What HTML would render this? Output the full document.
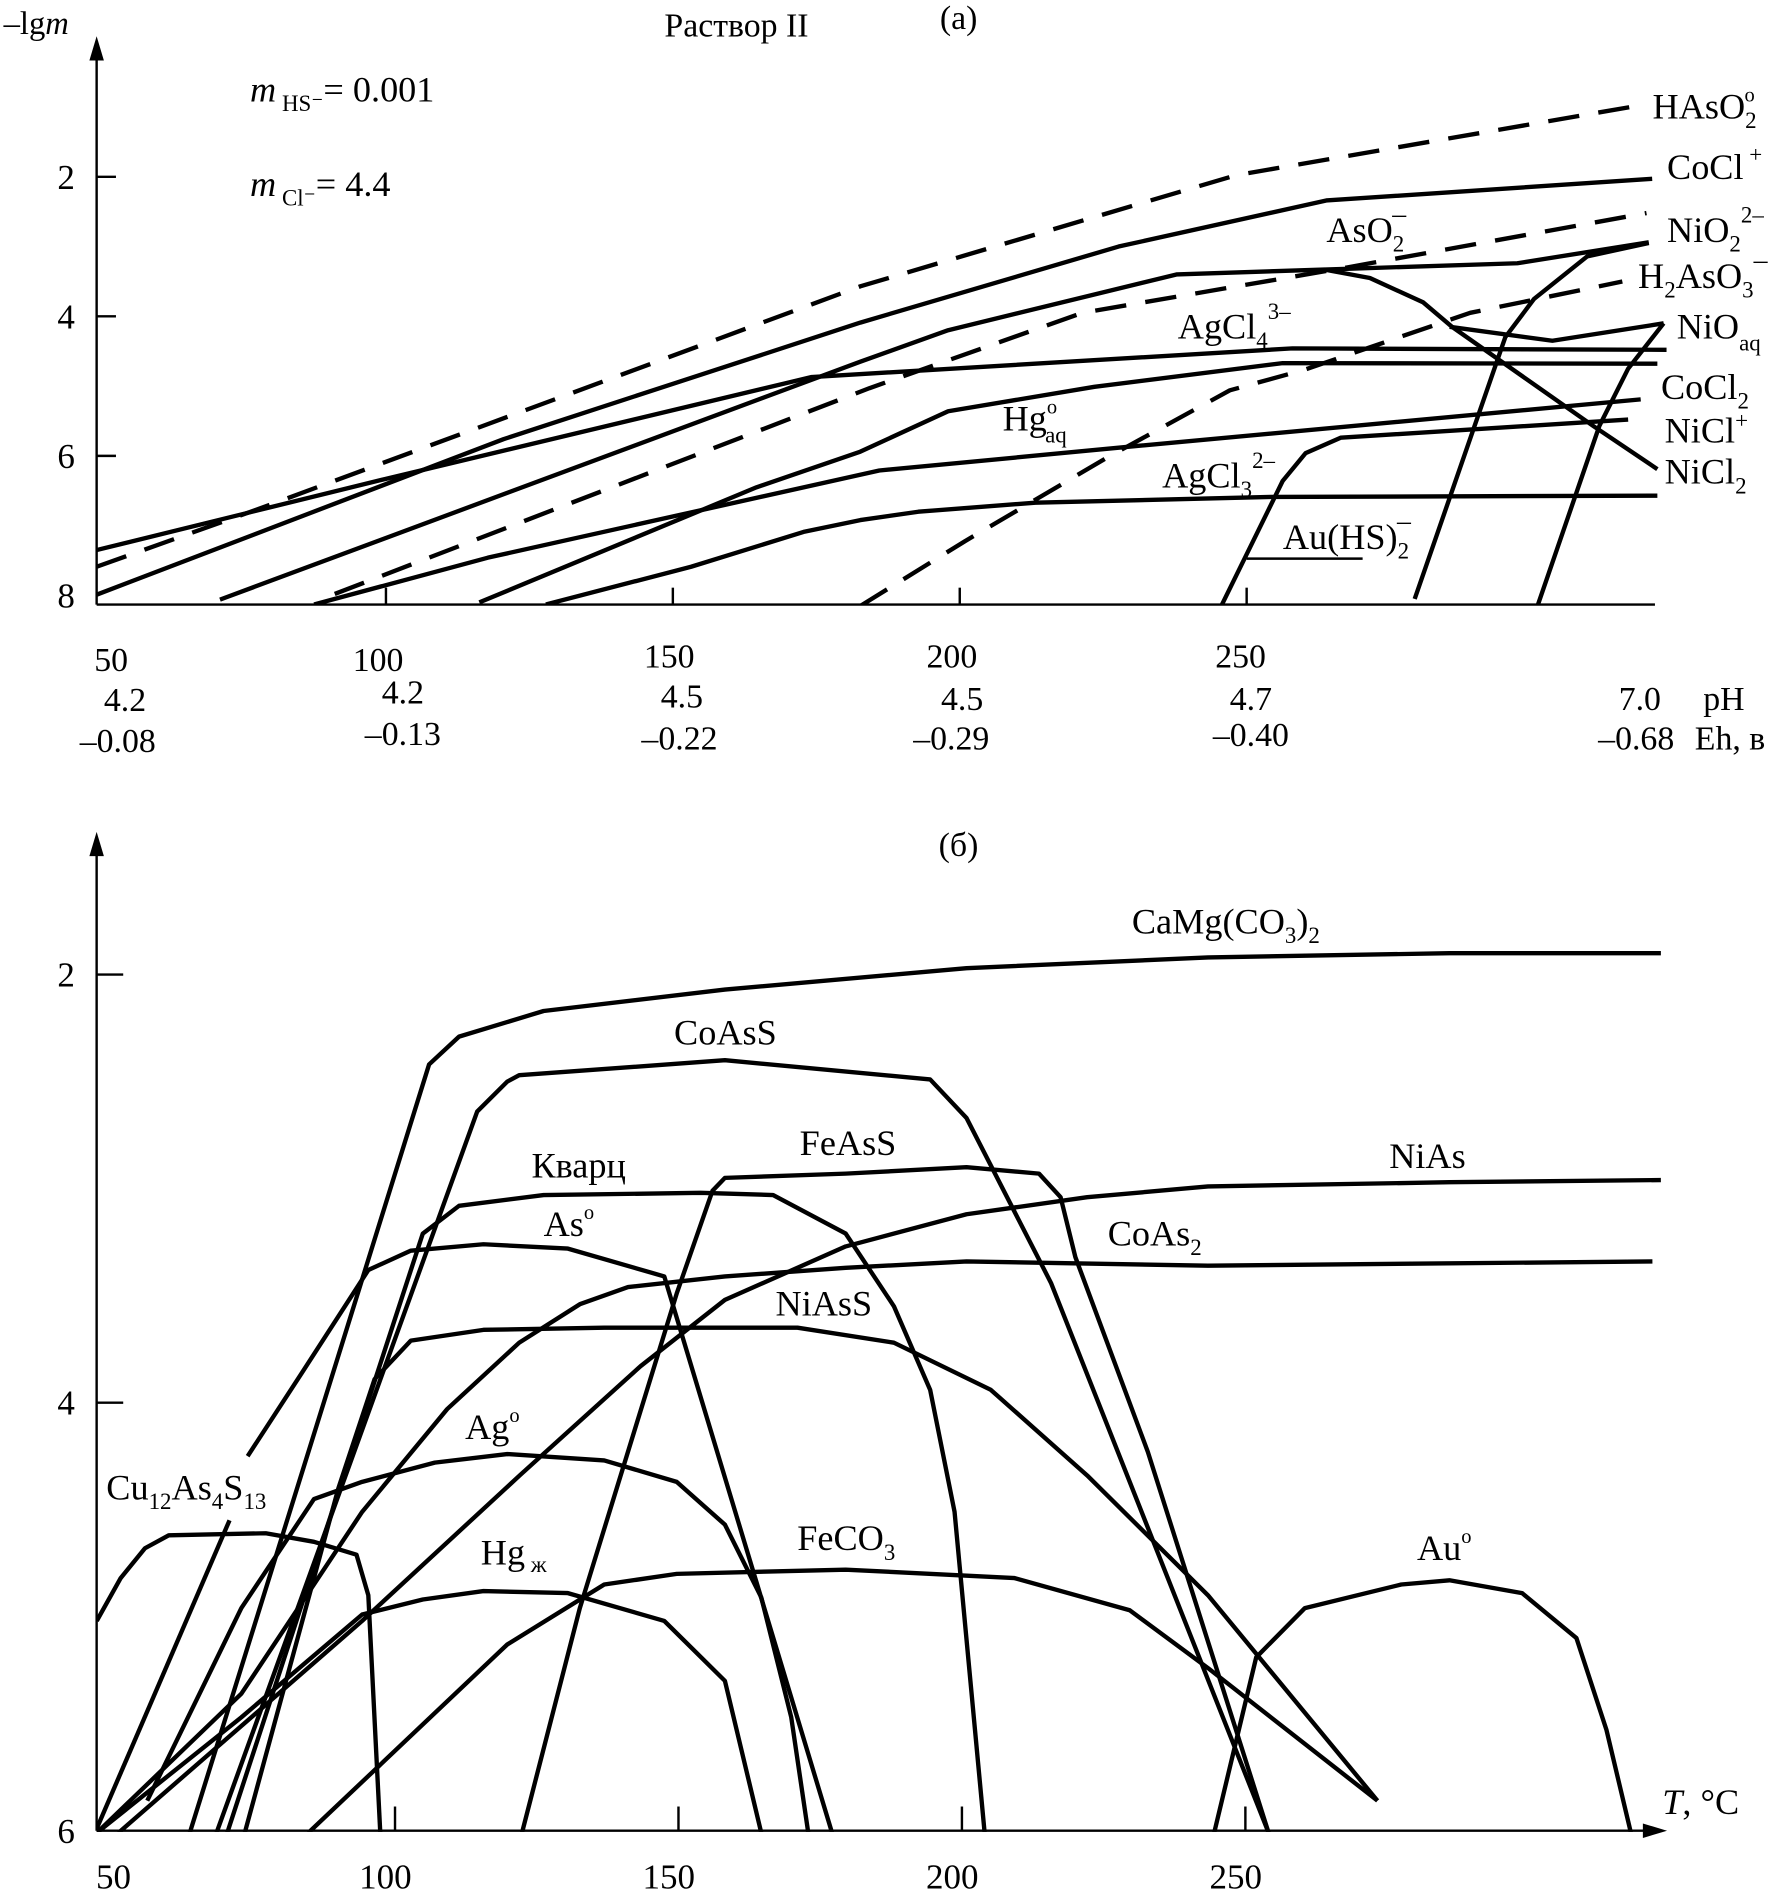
<!DOCTYPE html>
<html><head><meta charset="utf-8"><style>
html,body{margin:0;padding:0;background:#fff;}
svg{display:block;}
text{font-family:"Liberation Serif",serif;fill:#000;}
</style></head><body>
<svg id="chart" xmlns="http://www.w3.org/2000/svg" width="1783" height="1896" viewBox="0 0 1476 1568" preserveAspectRatio="none">
<defs>
<clipPath id="clipA"><rect x="80" y="20" width="1300" height="480"/></clipPath>
<clipPath id="clipB"><rect x="80" y="680" width="1300" height="835"/></clipPath>
</defs>
<g id="panelA">
  <line x1="80" y1="38" x2="80" y2="500" stroke="#000" stroke-width="2"/>
  <polygon points="80,30 74,50 86,50" fill="#000"/>
  <line x1="80" y1="500" x2="1370" y2="500" stroke="#000" stroke-width="2"/>
  <text x="3" y="28" font-size="27">–lg<tspan font-style="italic">m</tspan></text>
  <text x="550" y="30" font-size="28">Раствор II</text>
  <text x="778" y="24" font-size="28">(a)</text>
  <text x="207" y="84" font-size="30"><tspan font-style="italic">m</tspan><tspan font-size="19" dy="8"> HS⁻</tspan><tspan dy="-8">= 0.001</tspan></text>
  <text x="207" y="162" font-size="30"><tspan font-style="italic">m</tspan><tspan font-size="19" dy="8"> Cl⁻</tspan><tspan dy="-8">= 4.4</tspan></text>
  <g id="ticksA"></g>
  <g id="curvesA" clip-path="url(#clipA)"></g>
  <line x1="1032" y1="462" x2="1128" y2="462" stroke="#000" stroke-width="2"/>
  <g font-size="30">
    <text x="1368" y="98">HAsO<tspan font-size="19" dy="8">2</tspan><tspan font-size="17" dy="-22" dx="-10">o</tspan></text>
    <text x="1380" y="148">CoCl<tspan font-size="19" dy="-14"> +</tspan></text>
    <text x="1380" y="200">NiO<tspan font-size="19" dy="8">2</tspan><tspan font-size="19" dy="-24">2–</tspan></text>
    <text x="1356" y="238">H<tspan font-size="19" dy="8">2</tspan><tspan dy="-8">AsO</tspan><tspan font-size="19" dy="8">3</tspan><tspan font-size="23" dy="-24">–</tspan></text>
    <text x="1388" y="280">NiO<tspan font-size="19" dy="10">aq</tspan></text>
    <text x="1375" y="330">CoCl<tspan font-size="19" dy="8">2</tspan></text>
    <text x="1378" y="366">NiCl<tspan font-size="19" dy="-12">+</tspan></text>
    <text x="1378" y="400">NiCl<tspan font-size="19" dy="8">2</tspan></text>
    <text x="1098" y="200">AsO<tspan font-size="19" dy="8">2</tspan><tspan font-size="23" dy="-24" dx="-10">–</tspan></text>
    <text x="975" y="280">AgCl<tspan font-size="19" dy="8">4</tspan><tspan font-size="19" dy="-24">3–</tspan></text>
    <text x="830" y="356">Hg<tspan font-size="17" dy="-14">o</tspan><tspan font-size="19" dy="24" dx="-10">aq</tspan></text>
    <text x="962" y="403">AgCl<tspan font-size="19" dy="8">3</tspan><tspan font-size="19" dy="-24">2–</tspan></text>
    <text x="1062" y="454">Au(HS)<tspan font-size="19" dy="8">2</tspan><tspan font-size="23" dy="-24" dx="-10">–</tspan></text>
  </g>
  <g font-size="28">
    <text x="78" y="555">50</text><text x="292" y="555">100</text><text x="533" y="552">150</text>
    <text x="767" y="552">200</text><text x="1006" y="552">250</text>
    <text x="86" y="588">4.2</text><text x="316" y="582">4.2</text><text x="547" y="585">4.5</text>
    <text x="779" y="587">4.5</text><text x="1018" y="587">4.7</text><text x="1340" y="587">7.0</text><text x="1410" y="587">pH</text>
    <text x="66" y="622">–0.08</text><text x="302" y="616">–0.13</text><text x="531" y="620">–0.22</text>
    <text x="756" y="620">–0.29</text><text x="1004" y="617">–0.40</text><text x="1323" y="620">–0.68</text><text x="1403" y="620">Eh, в</text>
  </g>
</g>
<g id="panelB">
  <text x="777" y="708" font-size="28">(б)</text>
  <line x1="80" y1="698" x2="80" y2="1514" stroke="#000" stroke-width="2"/>
  <polygon points="80,688 74,708 86,708" fill="#000"/>
  <line x1="80" y1="1514" x2="1370" y2="1514" stroke="#000" stroke-width="2"/>
  <polygon points="1380,1514 1360,1508 1360,1520" fill="#000"/>
  <text x="1376" y="1500" font-size="30"><tspan font-style="italic">T</tspan>, °C</text>
  <g id="ticksB"></g>
  <g id="curvesB" clip-path="url(#clipB)"></g>
  <g font-size="30">
    <text x="937" y="772">CaMg(CO<tspan font-size="19" dy="8">3</tspan><tspan dy="-8">)</tspan><tspan font-size="19" dy="8">2</tspan></text>
    <text x="558" y="864">CoAsS</text>
    <text x="440" y="974">Кварц</text>
    <text x="662" y="955">FeAsS</text>
    <text x="1150" y="966">NiAs</text>
    <text x="450" y="1022">As<tspan font-size="17" dy="-14">o</tspan></text>
    <text x="917" y="1030">CoAs<tspan font-size="19" dy="8">2</tspan></text>
    <text x="642" y="1088">NiAsS</text>
    <text x="385" y="1190">Ag<tspan font-size="17" dy="-14">o</tspan></text>
    <text x="88" y="1240">Cu<tspan font-size="19" dy="8">12</tspan><tspan dy="-8">As</tspan><tspan font-size="19" dy="8">4</tspan><tspan dy="-8">S</tspan><tspan font-size="19" dy="8">13</tspan></text>
    <text x="398" y="1294">Hg<tspan font-size="19" dy="6"> ж</tspan></text>
    <text x="660" y="1282">FeCO<tspan font-size="19" dy="8">3</tspan></text>
    <text x="1173" y="1290">Au<tspan font-size="17" dy="-14">o</tspan></text>
  </g>
</g>
</svg>
<script>
// ---------- Panel (a) data: T (°C) and -lg m ----------
const yTicksA = [2, 4, 6, 8];
const xTicksA = [100, 150, 200, 250];
const hasoT = [50, 78.2, 183.1, 248.5, 320.1];
const hasoV = [7.59, 6.76, 3.57, 1.98, 0.96];
const coclT = [50, 120.9, 183.1, 228.1, 264.3, 321.1];
const coclV = [7.99, 5.76, 4.09, 3.00, 2.34, 2.03];
const nio2dT = [91.5, 184.7, 221.8, 267.9, 320.1];
const nio2dV = [7.98, 5.03, 3.95, 3.30, 2.52];
const aso2T = [71.5, 183.1, 198.4, 238.2, 263.9, 271.9, 281.2, 286.2, 310.8, 322.0];
const aso2V = [8.06, 4.65, 4.20, 3.40, 3.33, 3.45, 3.80, 4.15, 5.57, 6.19];
const nio2sT = [264, 297.6, 320.5];
const nio2sV = [3.33, 3.24, 2.94];
const agcl4T = [50, 100.4, 174.6, 258.4, 323.6];
const agcl4V = [7.35, 6.33, 4.87, 4.46, 4.48];
const hgaqT = [116.7, 165, 183.1, 198.4, 223.9, 256.7, 322];
const hgaqV = [8.10, 6.45, 5.94, 5.36, 5.01, 4.67, 4.68];
const cocl2T = [87.9, 118.2, 186.4, 231.1, 319.1];
const cocl2V = [8.13, 7.46, 6.21, 5.86, 5.19];
const agcl3T = [128.3, 153.6, 173.2, 183.1, 193.2, 213.6, 254.6, 322];
const agcl3V = [8.13, 7.59, 7.09, 6.92, 6.80, 6.67, 6.59, 6.57];
const h2aso3T = [183.1, 201.4, 226, 247.5, 260.7, 289.4, 315.9];
const h2aso3V = [8.15, 7.22, 6.03, 5.06, 4.76, 3.95, 3.50];
const auhsT = [246.0, 256.7, 260.7, 266.8, 316.9];
const auhsV = [8.15, 6.36, 5.96, 5.74, 5.48];
const steep1T = [279.7, 295.5, 300.5, 309.8, 320.5];
const steep1V = [8.05, 4.30, 3.75, 3.14, 2.95];
const steep2T = [301.2, 311.9, 316.9, 323.1];
const steep2V = [8.13, 5.57, 4.75, 4.10];
const nioaqT = [285.8, 303.7, 323.1];
const nioaqV = [4.15, 4.35, 4.10];

// ---------- Panel (b) data ----------
const yTicksB = [2, 4, 6];
const xTicksB = [100, 150, 200, 250];
const xLabelsB = [50, 100, 150, 200, 250];
const camgT = [63.8, 106.0, 111.3, 126.2, 158.2, 200.8, 243.4, 286.0, 323.3];
const camgV = [6.01, 2.42, 2.29, 2.17, 2.07, 1.97, 1.92, 1.90, 1.90];
const coassT = [68.5, 114.5, 119.8, 121.9, 158.2, 194.4, 200.8, 215.7, 254.1];
const coassV = [6.01, 2.64, 2.50, 2.47, 2.40, 2.49, 2.67, 3.44, 6.01];
const kvartsT = [70.4, 104.9, 111.3, 126.2, 153.9, 166.7, 179.5, 188.0, 194.4, 198.7, 204.0];
const kvartsV = [6.01, 3.21, 3.08, 3.03, 3.02, 3.03, 3.21, 3.55, 3.94, 4.51, 6.01];
const feassT = [122.4, 132.6, 149.7, 156.0, 158.2, 179.5, 200.8, 213.6, 217.4, 220.0, 232.8, 254.1];
const feassV = [6.01, 4.96, 3.49, 3.01, 2.95, 2.93, 2.90, 2.93, 3.04, 3.32, 4.23, 6.01];
const niasT = [51.2, 94.2, 122.0, 143.3, 158.2, 179.5, 200.8, 222.1, 243.4, 286.0, 323.3];
const niasV = [6.01, 5.02, 4.34, 3.83, 3.52, 3.27, 3.12, 3.04, 2.99, 2.97, 2.96];
const coas2T = [47.4, 72.9, 94.2, 109.2, 121.9, 132.6, 141.1, 158.2, 179.5, 200.8, 243.4, 321.8];
const coas2V = [6.01, 5.36, 4.51, 4.03, 3.72, 3.54, 3.46, 3.41, 3.37, 3.34, 3.36, 3.34];
const niassT = [73.5, 90.0, 96.4, 102.8, 115.6, 136.9, 171.0, 188.0, 205.1, 222.1, 243.4, 273.3];
const niassV = [6.01, 4.40, 3.89, 3.71, 3.66, 3.65, 3.65, 3.72, 3.94, 4.34, 4.90, 5.86];
const agT = [56.3, 72.9, 85.7, 94.2, 107.0, 119.8, 136.9, 149.7, 158.2, 164.6, 169.9, 172.9];
const agV = [5.86, 4.96, 4.45, 4.37, 4.28, 4.24, 4.27, 4.37, 4.57, 4.91, 5.47, 6.01];
const hgT = [47.4, 72.9, 94.2, 104.9, 115.6, 130.5, 147.5, 158.2, 164.6];
const hgV = [6.01, 5.47, 4.99, 4.92, 4.88, 4.89, 5.02, 5.30, 6.01];
const feco3T = [84.7, 119.8, 136.9, 149.7, 179.5, 209.3, 229.6, 243.4, 273.3];
const feco3V = [6.01, 5.13, 4.85, 4.80, 4.78, 4.82, 4.97, 5.24, 5.86];
const cuT = [47.4, 51.6, 55.9, 60.1, 77.2, 85.7, 93.2, 95.3, 97.4];
const cuV = [5.02, 4.82, 4.68, 4.62, 4.61, 4.65, 4.71, 4.90, 6.01];
const asLowT = [47.4, 70.8];
const asLowV = [5.99, 4.55];
const asT = [74.0, 83.6, 95.3, 102.8, 115.6, 130.5, 147.5, 177.1];
const asV = [4.25, 3.86, 3.38, 3.29, 3.26, 3.28, 3.41, 6.01];
const auT = [244.5, 251.9, 260.5, 277.5, 286.0, 298.8, 308.4, 313.7, 318.0];
const auV = [6.01, 5.19, 4.96, 4.85, 4.83, 4.89, 5.10, 5.53, 6.01];

const NS = 'http://www.w3.org/2000/svg';
function xA(t){ return 80 + (t - 50) * 4.75; }
function yA(v){ return 30.8 + 57.7 * v; }
function xB(t){ return 327 + (t - 100) * 4.693; }
function yB(v){ return 452 + 177 * v; }

function drawCurve(group, ts, vs, fx, fy, name, dashed){
  const p = document.createElementNS(NS, 'path');
  let d = '';
  for (let i = 0; i < ts.length; i++) d += (i ? 'L' : 'M') + fx(ts[i]).toFixed(1) + ' ' + fy(vs[i]).toFixed(1);
  p.setAttribute('d', d);
  p.setAttribute('fill', 'none');
  p.setAttribute('stroke', '#000');
  p.setAttribute('stroke-width', '3.6');
  p.setAttribute('stroke-linejoin', 'round');
  if (dashed) p.setAttribute('stroke-dasharray', '26 16');
  
  
  group.appendChild(p);
}
function addLine(group, x1, y1, x2, y2, name){
  const l = document.createElementNS(NS, 'line');
  l.setAttribute('x1', x1); l.setAttribute('y1', y1); l.setAttribute('x2', x2); l.setAttribute('y2', y2);
  l.setAttribute('stroke', '#000'); l.setAttribute('stroke-width', '2');
  
  
  group.appendChild(l);
}
function addText(group, x, y, s, name, anchor){
  const t = document.createElementNS(NS, 'text');
  t.setAttribute('x', x); t.setAttribute('y', y); t.setAttribute('font-size', '29');
  if (anchor) t.setAttribute('text-anchor', anchor);
  t.textContent = s;
  
  
  group.appendChild(t);
}

const tA = document.getElementById('ticksA');
yTicksA.forEach(v => {
  if (v < 8) addLine(tA, 80, yA(v), 96, yA(v), 'y-tick-a');
  addText(tA, 62, yA(v) + 10, String(v), 'y-tick-label-a', 'end');
});
xTicksA.forEach(t => addLine(tA, xA(t) + 2, 500, xA(t) + 2, 486, 'x-tick-a'));

const cA = document.getElementById('curvesA');
drawCurve(cA, hasoT, hasoV, xA, yA, 'curve-hasoo2', true);
drawCurve(cA, coclT, coclV, xA, yA, 'curve-cocl-plus', false);
drawCurve(cA, nio2dT, nio2dV, xA, yA, 'curve-nio2-dashed', true);
drawCurve(cA, aso2T, aso2V, xA, yA, 'curve-aso2', false);
drawCurve(cA, nio2sT, nio2sV, xA, yA, 'curve-nio2-solid', false);
drawCurve(cA, agcl4T, agcl4V, xA, yA, 'curve-agcl4', false);
drawCurve(cA, hgaqT, hgaqV, xA, yA, 'curve-hgaq', false);
drawCurve(cA, cocl2T, cocl2V, xA, yA, 'curve-cocl2', false);
drawCurve(cA, agcl3T, agcl3V, xA, yA, 'curve-agcl3', false);
drawCurve(cA, h2aso3T, h2aso3V, xA, yA, 'curve-h2aso3', true);
drawCurve(cA, auhsT, auhsV, xA, yA, 'curve-auhs2', false);
drawCurve(cA, steep1T, steep1V, xA, yA, 'curve-nicl2-steep', false);
drawCurve(cA, steep2T, steep2V, xA, yA, 'curve-nioaq-steep', false);
drawCurve(cA, nioaqT, nioaqV, xA, yA, 'curve-nioaq', false);

const tB = document.getElementById('ticksB');
yTicksB.forEach(v => {
  if (v < 6) addLine(tB, 80, yB(v), 102, yB(v), 'y-tick-b');
  addText(tB, 62, yB(v) + 10, String(v), 'y-tick-label-b', 'end');
});
xTicksB.forEach(t => addLine(tB, xB(t), 1514, xB(t), 1494, 'x-tick-b'));
xLabelsB.forEach(t => addText(tB, t === 50 ? 94 : xB(t) - 8, 1562, String(t), 'x-tick-label-b', 'middle'));

const cB = document.getElementById('curvesB');
drawCurve(cB, camgT, camgV, xB, yB, 'curve-camg', false);
drawCurve(cB, coassT, coassV, xB, yB, 'curve-coass', false);
drawCurve(cB, kvartsT, kvartsV, xB, yB, 'curve-kvarts', false);
drawCurve(cB, feassT, feassV, xB, yB, 'curve-feass', false);
drawCurve(cB, niasT, niasV, xB, yB, 'curve-nias', false);
drawCurve(cB, coas2T, coas2V, xB, yB, 'curve-coas2', false);
drawCurve(cB, niassT, niassV, xB, yB, 'curve-niass', false);
drawCurve(cB, agT, agV, xB, yB, 'curve-ag', false);
drawCurve(cB, hgT, hgV, xB, yB, 'curve-hg', false);
drawCurve(cB, feco3T, feco3V, xB, yB, 'curve-feco3', false);
drawCurve(cB, cuT, cuV, xB, yB, 'curve-cu12as4s13', false);
drawCurve(cB, asLowT, asLowV, xB, yB, 'curve-as-lower', false);
drawCurve(cB, asT, asV, xB, yB, 'curve-as', false);
drawCurve(cB, auT, auV, xB, yB, 'curve-au', false);
</script>
</body></html>
